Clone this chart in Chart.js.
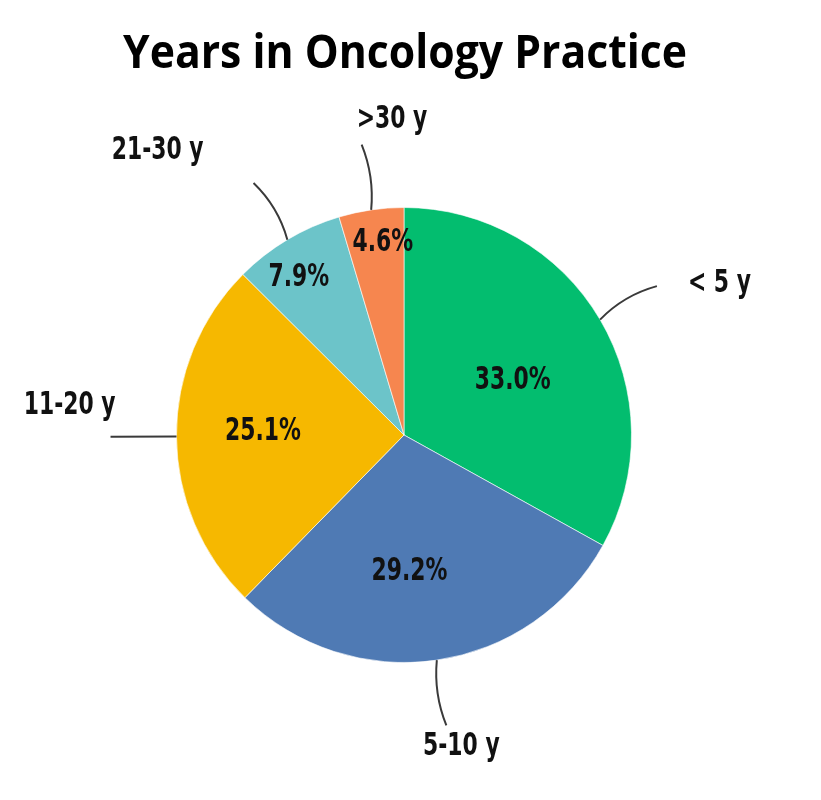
<!DOCTYPE html>
<html>
<head>
<meta charset="utf-8">
<script src="https://cdn.jsdelivr.net/npm/chart.js@4.4.1/dist/chart.umd.min.js"></script>
<style>
html,body{margin:0;padding:0;background:#fff;}
#wrap{width:821px;height:800px;}
</style>
</head>
<body>
<div id="wrap"><canvas id="c" width="821" height="800"></canvas></div>
<script>
const titleText = 'Years in Oncology Practice';
const categories = ['< 5 y', '5-10 y', '11-20 y', '21-30 y', '>30 y'];
const values = [33.0, 29.2, 25.1, 7.9, 4.6];
const valueLabels = ['33.0%', '29.2%', '25.1%', '7.9%', '4.6%'];
const colors = ['#03bd6f', '#4f7ab4', '#f6b800', '#6cc4c9', '#f6864f'];

const LABEL_FONT = "bold 32px 'DejaVu Sans Condensed', 'DejaVu Sans', sans-serif";
const TITLE_FONT = "bold 46px 'Open Sans', 'DejaVu Sans', sans-serif";
const SQUEEZE = 0.76;

// inside label style: radius fraction, angle offset (deg)
const insideStyle = [
  {r: 0.535, da: 3.8},
  {r: 0.60, da: 6},
  {r: 0.62, da: 1.7},
  {r: 0.83, da: -3},
  {r: 0.85, da: 2}
];
// outer label style: offset from leader end, alignment, leader bend
const outerStyle = [
  {dx: 31, dy: -2, align: 'left', bend: -9},
  {dx: 15, dy: 21, align: 'center', bend: 8},
  {dx: 5, dy: -31, align: 'right', bend: 0},
  {dx: -50, dy: -32, align: 'right', bend: 9},
  {dx: -5, dy: -25, align: 'left', bend: 8}
];

function squeezedText(ctx, text, x, y) {
  const w = ctx.measureText(text).width;
  ctx.fillText(text, x, y, w * SQUEEZE);
}

const labelPlugin = {
  id: 'pieLabels',
  afterDatasetsDraw(chart) {
    const ctx = chart.ctx;
    const meta = chart.getDatasetMeta(0);
    ctx.save();
    // title
    ctx.fillStyle = '#000';
    ctx.font = TITLE_FONT;
    ctx.textAlign = 'center';
    ctx.textBaseline = 'alphabetic';
    ctx.fillText(titleText, 405, 68, 564);

    meta.data.forEach((arc, i) => {
      const p = arc.getProps(['x','y','startAngle','endAngle','outerRadius'], true);
      const mid = (p.startAngle + p.endAngle) / 2;
      const R = p.outerRadius;
      // inside value label
      const ins = insideStyle[i];
      const a = mid + ins.da * Math.PI / 180;
      const ix = p.x + Math.cos(a) * R * ins.r;
      const iy = p.y + Math.sin(a) * R * ins.r;
      ctx.fillStyle = '#111';
      ctx.font = LABEL_FONT;
      ctx.textAlign = 'center';
      ctx.textBaseline = 'middle';
      squeezedText(ctx, valueLabels[i], ix, iy);
      // leader line
      const st = outerStyle[i];
      const sx = p.x + Math.cos(mid) * R;
      const sy = p.y + Math.sin(mid) * R;
      const ex = p.x + Math.cos(mid) * R * 1.29;
      const ey = p.y + Math.sin(mid) * R * 1.29;
      const mx = (sx + ex) / 2, my = (sy + ey) / 2;
      const nx = -Math.sin(mid), ny = Math.cos(mid);
      ctx.strokeStyle = '#3a3a3a';
      ctx.lineWidth = 2;
      ctx.beginPath();
      ctx.moveTo(sx, sy);
      ctx.quadraticCurveTo(mx + nx * st.bend, my + ny * st.bend, ex, ey);
      ctx.stroke();
      // outer category label
      ctx.fillStyle = '#111';
      ctx.textAlign = st.align;
      ctx.textBaseline = 'middle';
      squeezedText(ctx, categories[i], ex + st.dx, ey + st.dy);
    });
    ctx.restore();
  }
};

new Chart(document.getElementById('c'), {
  type: 'pie',
  data: {
    labels: categories,
    datasets: [{
      data: values,
      backgroundColor: colors,
      borderColor: 'rgba(255,255,255,0.6)',
      borderWidth: 1
    }]
  },
  options: {
    responsive: false,
    animation: false,
    layout: {padding: {left: 176, right: 189, top: 207, bottom: 137}},
    plugins: {
      legend: {display: false},
      tooltip: {enabled: false},
      title: {display: false}
    }
  },
  plugins: [labelPlugin]
});
</script>
</body>
</html>
